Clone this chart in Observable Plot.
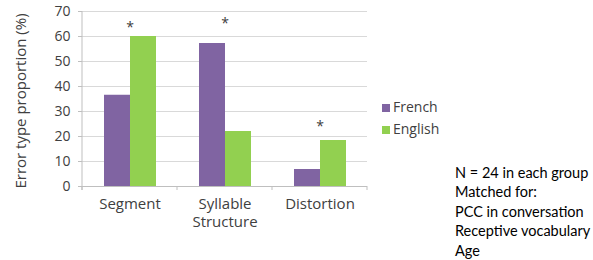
<!DOCTYPE html>
<html>
<head>
<meta charset="utf-8">
<script src="https://cdn.jsdelivr.net/npm/d3@7"></script>
<script src="https://cdn.jsdelivr.net/npm/@observablehq/plot@0.6"></script>
<style>
  html, body { margin: 0; padding: 0; background: #fff; }
  #wrap { position: relative; width: 593px; height: 260px; overflow: hidden; font-family: "Open Sans", sans-serif; }
  #chart { position: absolute; left: 0; top: 0; }
  #ylabel { position: absolute; left: 20px; top: 101px; transform: translate(-50%, -50%) rotate(-90deg); font-size: 15px; color: #404040; white-space: nowrap; }
  #legend { position: absolute; left: 382px; top: 96px; font-size: 14px; color: #404040; line-height: 22px; }
  #legend .sw { display: inline-block; width: 8px; height: 8px; margin-right: 3px; }
  #notes { position: absolute; left: 455px; top: 163px; font-family: "Lato", sans-serif; font-size: 14.5px; color: #000; line-height: 19.4px; white-space: nowrap; }
</style>
</head>
<body>
<div id="wrap">
  <div id="chart"></div>
  <div id="ylabel"></div>
  <div id="legend"></div>
  <div id="notes"></div>
</div>
<script>
const categories = ["Segment", "Syllable Structure", "Distortion"];
const series = ["French", "English"];
const french = [36.5, 57.2, 6.8];
const english = [60, 22, 18.4];
const starY = [63.5, 65.2, 24];
const yTicks = [0, 10, 20, 30, 40, 50, 60, 70];
const colors = ["#8064a2", "#92d050"];
const yLabel = "Error type proportion (%)";
const notes = ["N = 24 in each group", "Matched for:", "PCC in conversation", "Receptive vocabulary", "Age"];

const rows = [];
categories.forEach((c, i) => {
  rows.push({category: c, series: series[0], value: french[i]});
  rows.push({category: c, series: series[1], value: english[i]});
});
const stars = categories.map((c, i) => ({category: c, y: starY[i]}));

const W = 593, H = 260;
const chart = Plot.plot({
  width: W,
  height: H,
  marginLeft: 81,
  marginRight: 225,
  marginTop: 11,
  marginBottom: 74,
  style: {fontFamily: "Open Sans, sans-serif", fontSize: "14px", color: "#404040", background: "transparent"},
  fx: {domain: categories, paddingInner: 0, paddingOuter: 0, label: null, axis: null},
  x: {domain: series, paddingInner: 0, paddingOuter: 0.772, axis: null},
  y: {domain: [0, 70], axis: null},
  color: {domain: series, range: colors},
  marks: [
    Plot.gridY(yTicks, {stroke: "#d9d9d9", strokeOpacity: 1}),
    Plot.ruleY([0], {stroke: "#bfbfbf"}),
    Plot.axisY(yTicks, {tickSize: 4, tickPadding: 8, label: null, stroke: "#bfbfbf", fontSize: 14, fill: "#404040"}),
    Plot.axisFx({anchor: "bottom", tickSize: 0, tickPadding: 10, label: null, fontSize: 15, lineHeight: 1.2, fill: "#404040",
                 tickFormat: d => d.replace(" ", "\n")}),
    Plot.barY(rows, {fx: "category", x: "series", y: "value", fill: "series"}),
    Plot.text(stars, {fx: "category", y: "y", text: () => "*", fontSize: 14, fill: "#404040"})
  ]
});
document.getElementById("chart").appendChild(chart);

// y axis line and category boundary ticks, positioned with Plot's own scales
const fx = chart.scale("fx"), y = chart.scale("y");
const svg = d3.select(chart);
const bw = fx.bandwidth;
const bounds = [fx.apply(categories[0])].concat(categories.map(c => fx.apply(c) + bw));
const y0 = y.apply(0), yTop = y.apply(70);
svg.append("line").attr("x1", bounds[0]).attr("x2", bounds[0]).attr("y1", yTop).attr("y2", y0 + 4)
  .attr("stroke", "#bfbfbf");
bounds.forEach(b => {
  svg.append("line").attr("x1", b).attr("x2", b).attr("y1", y0).attr("y2", y0 + 4).attr("stroke", "#bfbfbf");
});

d3.select("#ylabel").text(yLabel);
// legend
const leg = d3.select("#legend");
series.forEach((s, i) => {
  const row = leg.append("div");
  row.append("span").attr("class", "sw").style("background", colors[i]);
  row.append("span").text(s);
});
// notes
const nt = d3.select("#notes");
notes.forEach(n => nt.append("div").text(n));
</script>
</body>
</html>
